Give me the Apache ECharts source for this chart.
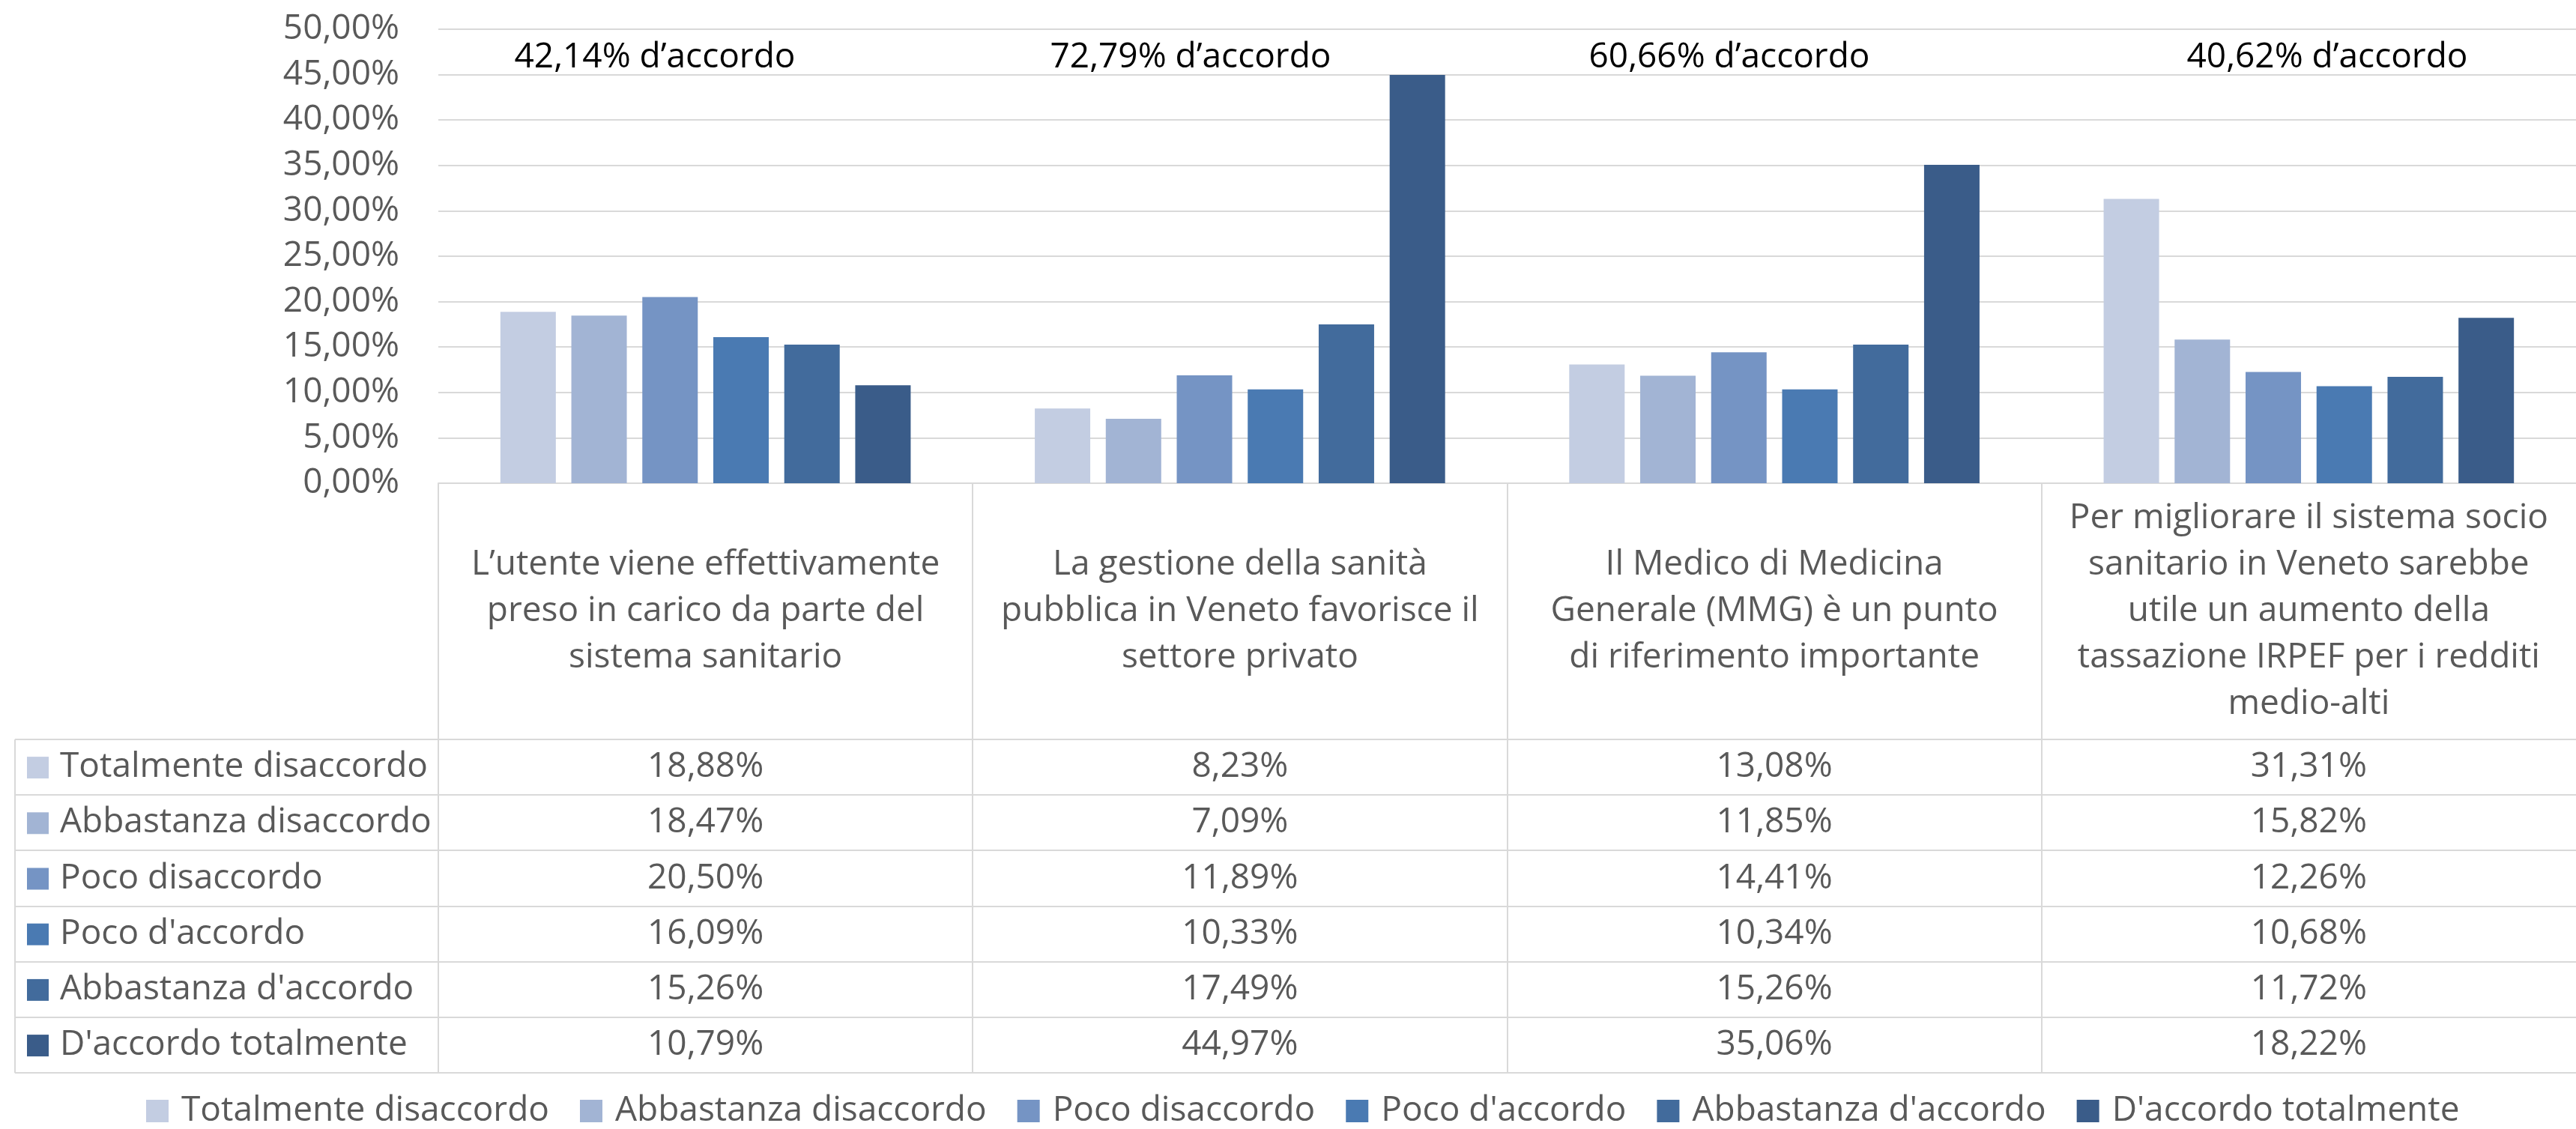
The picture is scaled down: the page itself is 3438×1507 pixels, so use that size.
<!DOCTYPE html>
<html>
<head>
<meta charset="utf-8">
<script src="https://cdn.jsdelivr.net/npm/echarts@6/dist/echarts.min.js"></script>
<style>
  html, body { margin: 0; padding: 0; background: #fff; }
  #chart { width: 3438px; height: 1507px; }
</style>
</head>
<body>
<div id="chart"></div>
<script>
// categorie (domande) e serie (livelli di accordo)
var categories = [
    'L\u2019utente viene effettivamente\npreso in carico da parte del\nsistema sanitario',
    'La gestione della sanità\npubblica in Veneto favorisce il\nsettore privato',
    'Il Medico di Medicina\nGenerale (MMG) è un punto\ndi riferimento importante',
    'Per migliorare il sistema socio\nsanitario in Veneto sarebbe\nutile un aumento della\ntassazione IRPEF per i redditi\nmedio-alti'
];
var seriesNames = ['Totalmente disaccordo', 'Abbastanza disaccordo', 'Poco disaccordo',
    "Poco d'accordo", "Abbastanza d'accordo", "D'accordo totalmente"];

var totDisaccordo = [18.88, 8.23, 13.08, 31.31];
var abbDisaccordo = [18.47, 7.09, 11.85, 15.82];
var pocoDisaccordo = [20.50, 11.89, 14.41, 12.26];
var pocoAccordo = [16.09, 10.33, 10.34, 10.68];
var abbAccordo = [15.26, 17.49, 15.26, 11.72];
var totAccordo = [10.79, 44.97, 35.06, 18.22];
var seriesValues = [totDisaccordo, abbDisaccordo, pocoDisaccordo, pocoAccordo, abbAccordo, totAccordo];

var accordoNotes = ['42,14% d\u2019accordo', '72,79% d\u2019accordo', '60,66% d\u2019accordo', '40,62% d\u2019accordo'];
var yTicks = [0, 5, 10, 15, 20, 25, 30, 35, 40, 45, 50];

var colors = ['#C3CDE2', '#A2B4D4', '#7594C4', '#4A7AB2', '#426B9C', '#3A5C89'];
var FONT = "'Open Sans', sans-serif";
var GRAY = '#595959';
var LINE = '#D9D9D9';

var W = 3438, H = 1507;
var gridLeft = 585, gridTop = 39, axisY = 645;
var colW = (W - gridLeft) / categories.length;
var tableLeft = 20, headerBottom = 987, rowH = 74.2;

function pct(v) {
    return v.toFixed(2).replace('.', ',') + '%';
}

var myChart = echarts.init(document.getElementById('chart'));

// tabella dati disegnata con elementi grafici
var graphics = [];
var tableBottom = headerBottom + rowH * seriesNames.length;
// linee orizzontali
for (var r = 0; r <= seriesNames.length; r++) {
    var yy = Math.round(headerBottom + rowH * r);
    graphics.push({
        type: 'line', shape: { x1: tableLeft, y1: yy, x2: W, y2: yy },
        style: { stroke: LINE, lineWidth: 2 }, silent: true
    });
}
// linee verticali (niente bordo a destra)
graphics.push({
    type: 'line', shape: { x1: tableLeft, y1: headerBottom, x2: tableLeft, y2: tableBottom },
    style: { stroke: LINE, lineWidth: 2 }, silent: true
});
for (var c = 0; c < categories.length; c++) {
    var xx = Math.round(gridLeft + colW * c);
    graphics.push({
        type: 'line', shape: { x1: xx, y1: axisY, x2: xx, y2: tableBottom },
        style: { stroke: LINE, lineWidth: 2 }, silent: true
    });
}
// righe: legenda + valori
seriesNames.forEach(function (name, i) {
    var cy = headerBottom + rowH * i + rowH / 2;
    graphics.push({
        type: 'rect', shape: { x: 36, y: cy - 14, width: 29, height: 29 },
        style: { fill: colors[i] }, silent: true
    });
    graphics.push({
        type: 'text', x: 80, y: cy,
        style: { text: name, font: '46px ' + FONT, fill: GRAY, textAlign: 'left', textVerticalAlign: 'middle' },
        silent: true
    });
    seriesValues[i].forEach(function (v, j) {
        graphics.push({
            type: 'text', x: gridLeft + colW * j + colW / 2, y: cy,
            style: { text: pct(v), font: '46px ' + FONT, fill: GRAY, textAlign: 'center', textVerticalAlign: 'middle' },
            silent: true
        });
    });
});
// note "d'accordo"
var noteX = [874, 1589, 2308, 3106];
accordoNotes.forEach(function (t, j) {
    graphics.push({
        type: 'text', x: noteX[j], y: 77,
        style: { text: t, font: '46px ' + FONT, fill: '#000000', textAlign: 'center', textVerticalAlign: 'middle' },
        silent: true
    });
});

var option = {
    animation: false,
    color: colors,
    textStyle: { fontFamily: FONT },
    grid: {
        left: gridLeft,
        right: 0,
        top: gridTop,
        bottom: H - axisY,
        containLabel: false
    },
    legend: {
        data: seriesNames,
        left: 190,
        top: 1455,
        icon: 'rect',
        itemWidth: 30,
        itemHeight: 30,
        itemGap: 41,
        textStyle: {
            fontSize: 46,
            fontFamily: FONT,
            color: GRAY,
            padding: [0, 0, 0, 12]
        }
    },
    xAxis: {
        type: 'category',
        data: categories,
        axisLine: { show: true, lineStyle: { color: LINE, width: 2 } },
        axisTick: { show: false },
        axisLabel: {
            interval: 0,
            margin: 171,
            verticalAlign: 'middle',
            fontSize: 46,
            lineHeight: 62,
            fontFamily: FONT,
            color: GRAY
        }
    },
    yAxis: {
        type: 'value',
        min: yTicks[0],
        max: yTicks[yTicks.length - 1],
        interval: yTicks[1] - yTicks[0],
        axisLine: { show: false },
        axisTick: { show: false },
        splitLine: { show: true, lineStyle: { color: LINE, width: 2 } },
        axisLabel: {
            margin: 52,
            fontSize: 46,
            fontFamily: FONT,
            color: GRAY,
            formatter: function (v) { return pct(v); }
        }
    },
    series: seriesNames.map(function (name, i) {
        return {
            name: name,
            type: 'bar',
            barWidth: 74,
            barGap: '28%',
            data: seriesValues[i]
        };
    }),
    graphic: graphics
};
myChart.setOption(option);
</script>
</body>
</html>
